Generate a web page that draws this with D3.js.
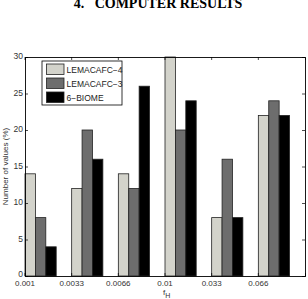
<!DOCTYPE html>
<html>
<head>
<meta charset="utf-8">
<script src="https://cdn.jsdelivr.net/npm/d3@7"></script>
<style>
  body { margin: 0; background: #fff; }
  svg { display: block; }
</style>
</head>
<body>
<script>
// ---- data ----
var categories = ['0.001', '0.0033', '0.0066', '0.01', '0.033', '0.066'];
var seriesNames = ['LEMACAFC\u22124', 'LEMACAFC\u22123', '6\u2212BIOME'];
var lemacafc4 = [14, 12, 14, 30, 8, 22];
var lemacafc3 = [8, 20, 12, 20, 16, 24];
var biome6 = [4, 16, 26, 24, 8, 22];
var yTicks = [0, 5, 10, 15, 20, 25, 30];
var colors = ['#d3d3cb', '#6d6d6d', '#000000'];

var W = 308, H = 299;
var m = {left: 25, right: 3, top: 57, bottom: 23};
var pw = W - m.left - m.right, ph = H - m.top - m.bottom;

var svg = d3.select('body').append('svg').attr('width', W).attr('height', H);

// title (partly cut at the top, as in the scan)
svg.append('text').attr('x', 158).attr('y', 8)
  .attr('text-anchor', 'middle')
  .style('white-space', 'pre')
  .style('font-family', '"Liberation Serif", "Times New Roman", serif')
  .style('font-weight', 'bold').style('font-size', '14px')
  .text('4.   COMPUTER RESULTS');

var g = svg.append('g').attr('transform', 'translate(' + m.left + ',' + m.top + ')');

var x = d3.scaleBand().domain(categories).range([0, pw]).paddingInner(0).paddingOuter(0);
var y = d3.scaleLinear().domain([0, 30]).range([ph, 0]);
var barW = 10.4;

var series = [lemacafc4, lemacafc3, biome6];
series.forEach(function(vals, s) {
  g.selectAll('.bar' + s).data(vals).enter().append('rect')
    .attr('x', function(d, i) { return x(categories[i]) + s * barW; })
    .attr('y', function(d) { return y(d); })
    .attr('width', barW)
    .attr('height', function(d) { return y(0) - y(d); })
    .attr('fill', colors[s])
    .attr('stroke', '#222').attr('stroke-width', 0.8);
});

// axes: box with inward ticks
var tickFont = '"Liberation Sans", Arial, sans-serif';
var yAxis = d3.axisLeft(y).tickValues(yTicks).tickSize(-3).tickPadding(2);
var gy = g.append('g').call(yAxis);
var xAxis = d3.axisBottom(x).tickSize(-3).tickPadding(4).tickFormat(function(d) { return d; });
var gx = g.append('g').attr('transform', 'translate(0,' + ph + ')').call(xAxis);
// ticks sit at the left edge of each group
gx.selectAll('.tick').attr('transform', function(d) { return 'translate(' + x(d) + ',0)'; });

g.append('g').attr('transform', 'translate(' + pw + ',0)')
  .call(d3.axisRight(y).tickValues(yTicks).tickSize(-3).tickFormat(''));
var gt = g.append('g').call(d3.axisTop(x).tickSize(-3).tickFormat(''));
gt.selectAll('.tick').attr('transform', function(d) { return 'translate(' + x(d) + ',0)'; });

g.selectAll('.domain').attr('stroke', '#000').attr('stroke-width', 0.9);
g.selectAll('.tick line').attr('stroke', '#000').attr('stroke-width', 0.7);
g.selectAll('.tick text').style('font-family', tickFont).style('font-size', '8.5px').attr('fill', '#333');
gx.selectAll('.tick text').style('font-size', '8px');
gy.selectAll('.tick text').attr('dy', function(d) { return d === 0 ? '0.05em' : '0.2em'; });

// axis labels
svg.append('text')
  .attr('transform', 'translate(8,' + (m.top + ph / 2) + ') rotate(-90)')
  .attr('text-anchor', 'middle')
  .style('font-family', tickFont).style('font-size', '8px').attr('fill', '#333')
  .text('Number of values (%)');
var xl = svg.append('text').attr('x', 163).attr('y', 294.5)
  .style('font-family', tickFont).style('font-size', '8px').attr('fill', '#333');
xl.append('tspan').text('f');
xl.append('tspan').attr('dy', 3.5).style('font-size', '7px').text('H');

// legend
var lg = svg.append('g').attr('transform', 'translate(42,61)');
lg.append('rect').attr('width', 80).attr('height', 44)
  .attr('fill', '#fff').attr('stroke', '#000').attr('stroke-width', 0.8);
seriesNames.forEach(function(name, i) {
  lg.append('rect').attr('x', 4.5).attr('y', 3 + i * 14).attr('width', 17.5).attr('height', 10.5)
    .attr('fill', colors[i]).attr('stroke', '#222').attr('stroke-width', 0.8);
  lg.append('text').attr('x', 24.5).attr('y', 11.5 + i * 14)
    .style('font-family', tickFont).style('font-size', '8.5px').attr('fill', '#222')
    .text(name);
});
</script>
</body>
</html>
